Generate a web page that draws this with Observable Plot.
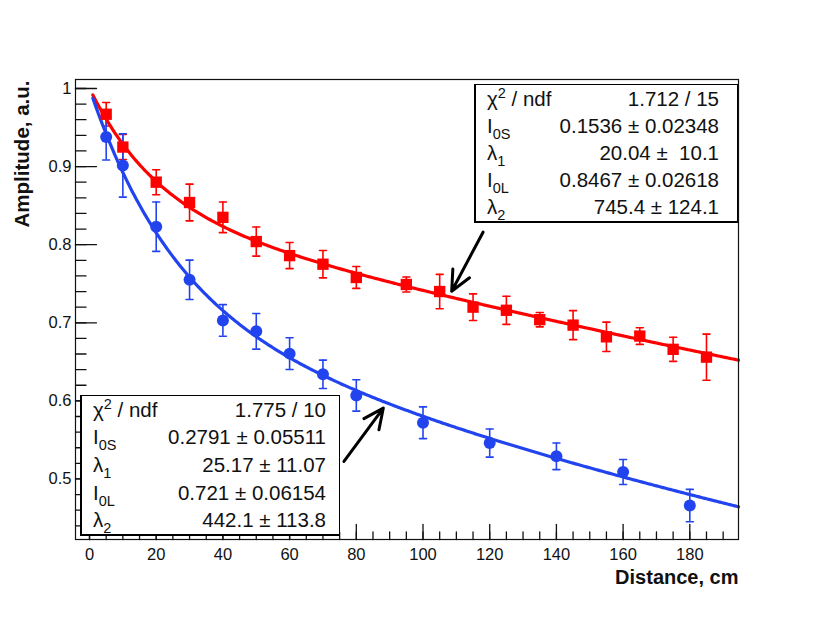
<!DOCTYPE html>
<html>
<head>
<meta charset="utf-8">
<script src="https://cdn.jsdelivr.net/npm/d3@7"></script>
<script src="https://cdn.jsdelivr.net/npm/@observablehq/plot@0.6"></script>
<style>
  html, body { margin: 0; padding: 0; background: #fff; }
  #wrap { position: relative; width: 830px; height: 623px; font-family: "Liberation Sans", Arial, Helvetica, sans-serif; }
  .stat { position: absolute; background: #fff; border: 1.3px solid #000; border-left-width: 2px; border-bottom-width: 2px; box-sizing: border-box; display: flex; flex-direction: column; justify-content: space-around; font-size: 20.5px; color: #111; }
  .row { display: flex; justify-content: space-between; align-items: baseline; white-space: pre; line-height: 26px; }
  .row sub { font-size: 14.5px; vertical-align: -6px; line-height: 0; }
  .row sup { font-size: 14.5px; vertical-align: 8px; line-height: 0; }
</style>
</head>
<body>
<div id="wrap"></div>
<script>
// ---- data ----
const redX   = [5, 10, 20, 30, 40, 50, 60, 70, 80, 95, 105, 115, 125, 135, 145, 155, 165, 175, 185];
const redY   = [0.967, 0.925, 0.880, 0.854, 0.835, 0.804, 0.786, 0.775, 0.758, 0.749, 0.740, 0.720, 0.716, 0.704, 0.697, 0.682, 0.683, 0.666, 0.656];
const redErr = [0.015, 0.016, 0.016, 0.0235, 0.0196, 0.0186, 0.0167, 0.0175, 0.014, 0.0096, 0.022, 0.017, 0.018, 0.0092, 0.0186, 0.0188, 0.0107, 0.0154, 0.0295];

const blueX   = [5, 10, 20, 30, 40, 50, 60, 70, 80, 100, 120, 140, 160, 180];
const blueY   = [0.938, 0.9015, 0.823, 0.755, 0.703, 0.689, 0.6605, 0.634, 0.607, 0.572, 0.546, 0.529, 0.509, 0.466];
const blueErr = [0.0295, 0.0406, 0.0316, 0.0252, 0.0203, 0.0228, 0.0203, 0.0182, 0.0201, 0.0203, 0.018, 0.017, 0.016, 0.0207];

// fit parameters: I0S, lambda1, I0L, lambda2 (from the stat boxes)
const redFit  = [0.1536, 20.04, 0.8467, 745.4];
const blueFit = [0.2791, 25.17, 0.721, 442.1];
const fitRange = [1, 194.6];

const redLabels  = ["χ<sup>2</sup> / ndf", "I<sub>0S</sub>", "λ<sub>1</sub>", "I<sub>0L</sub>", "λ<sub>2</sub>"];
const redValues  = ["1.712 / 15", "0.1536 ± 0.02348", "20.04 ±  10.1", "0.8467 ± 0.02618", "745.4 ± 124.1"];
const blueLabels = ["χ<sup>2</sup> / ndf", "I<sub>0S</sub>", "λ<sub>1</sub>", "I<sub>0L</sub>", "λ<sub>2</sub>"];
const blueValues = ["1.775 / 10", "0.2791 ± 0.05511", "25.17 ± 11.07", "0.721 ± 0.06154", "442.1 ± 113.8"];

const xMajor = [0, 20, 40, 60, 80, 100, 120, 140, 160, 180];
const xMinor = d3.range(0, 195, 5);
const yMajor = [0.5, 0.6, 0.7, 0.8, 0.9, 1.0];
const yMinor = [0.44,0.46,0.48,0.50,0.52,0.54,0.56,0.58,0.60,0.62,0.64,0.66,0.68,0.70,0.72,0.74,0.76,0.78,0.80,0.82,0.84,0.86,0.88,0.90,0.92,0.94,0.96,0.98,1.0];
const yTickLabels = ["0.5", "0.6", "0.7", "0.8", "0.9", "1"];

// arrows (data coordinates)
const arrowX1 = [118.0, 76.3];
const arrowY1 = [0.816, 0.5224];
const arrowX2 = [108.6, 88.1];
const arrowY2 = [0.7404, 0.5908];

const xTitle = "Distance, cm";
const yTitle = "Amplitude, a.u.";

// ---- build tables ----
const RED = "#ff0000", BLUE = "#2244ee";
const redPts  = redX.map((x, i) => ({x, y: redY[i], e: redErr[i]}));
const bluePts = blueX.map((x, i) => ({x, y: blueY[i], e: blueErr[i]}));
const fitF = p => x => p[0] * Math.exp(-x / p[1]) + p[2] * Math.exp(-x / p[3]);
const xs = d3.range(fitRange[0], fitRange[1], 0.5).concat([fitRange[1]]);
const redCurve  = xs.map(x => ({x, y: fitF(redFit)(x)}));
const blueCurve = xs.map(x => ({x, y: fitF(blueFit)(x)}));
const arrows = arrowX1.map((x1, i) => ({x1, y1: arrowY1[i], x2: arrowX2[i], y2: arrowY2[i]}));

const xDomain = [-4.2, 194.6];
const yDomain = [0.4225, 1.0115];

const lineShape = { draw(ctx, l) { ctx.moveTo(0, 0); ctx.lineTo(0, -l); } };

function errMarks(pts, color) {
  return [
    Plot.ruleX(pts, {x: "x", y1: d => d.y - d.e, y2: d => d.y + d.e, stroke: color, strokeWidth: 1.6}),
    Plot.vector(pts, {x: "x", y: d => d.y + d.e, length: 7, rotate: 90, anchor: "middle", shape: lineShape, stroke: color, strokeWidth: 1.6}),
    Plot.vector(pts, {x: "x", y: d => d.y - d.e, length: 7, rotate: 90, anchor: "middle", shape: lineShape, stroke: color, strokeWidth: 1.6})
  ];
}

const chart = Plot.plot({
  width: 830, height: 623,
  marginLeft: 75, marginRight: 92, marginTop: 79, marginBottom: 84,
  x: {domain: xDomain},
  y: {domain: yDomain},
  style: {fontFamily: "'Liberation Sans', Arial, Helvetica, sans-serif", background: "white", color: "#111"},
  marks: [
    // ticks (inward)
    Plot.vector(xMinor, {x: d => d, y: yDomain[0], length: 7.5, rotate: 0, anchor: "start", shape: lineShape, stroke: "#111", strokeWidth: 1.3}),
    Plot.vector(xMajor, {x: d => d, y: yDomain[0], length: 15, rotate: 0, anchor: "start", shape: lineShape, stroke: "#111", strokeWidth: 1.3}),
    Plot.vector(yMinor, {x: xDomain[0], y: d => d, length: 10.5, rotate: 90, anchor: "start", shape: lineShape, stroke: "#111", strokeWidth: 1.3}),
    Plot.vector(yMajor, {x: xDomain[0], y: d => d, length: 21, rotate: 90, anchor: "start", shape: lineShape, stroke: "#111", strokeWidth: 1.3}),
    Plot.axisX(xMajor, {tickSize: 0, tickPadding: 9, fontSize: 16.5, label: null, tickFormat: d => String(d)}),
    Plot.axisY(yMajor, {tickSize: 0, tickPadding: 4, fontSize: 16.5, label: null, tickFormat: (d, i) => yTickLabels[yMajor.indexOf(d)]}),
    ...errMarks(redPts, RED),
    ...errMarks(bluePts, BLUE),
    Plot.line(redCurve, {x: "x", y: "y", stroke: RED, strokeWidth: 3.2}),
    Plot.line(blueCurve, {x: "x", y: "y", stroke: BLUE, strokeWidth: 3.2}),
    Plot.dot(redPts, {x: "x", y: "y", symbol: "square", r: 6.4, fill: RED}),
    Plot.dot(bluePts, {x: "x", y: "y", symbol: "circle", r: 6, fill: BLUE}),
    Plot.arrow(arrows, {x1: "x1", y1: "y1", x2: "x2", y2: "y2", stroke: "#000", strokeWidth: 3, headLength: 13, headAngle: 50}),
    Plot.frame({stroke: "#111", strokeWidth: 1.2}),
    Plot.text([xTitle], {frameAnchor: "bottom-right", text: d => d, textAnchor: "end", lineAnchor: "bottom", dy: 44, fontSize: 20, fontWeight: "bold", fill: "#111"}),
    Plot.text([yTitle], {frameAnchor: "top-left", text: d => d, textAnchor: "end", lineAnchor: "middle", rotate: -90, dx: -53, dy: 1, fontSize: 20.5, fontWeight: "bold", fill: "#111"})
  ]
});

const wrap = document.getElementById("wrap");
wrap.appendChild(chart);

function statBox(labels, values, box) {
  const div = document.createElement("div");
  div.className = "stat";
  Object.assign(div.style, {left: box.left + "px", top: box.top + "px", width: box.width + "px", height: box.height + "px", padding: `0 ${box.padR}px 0 ${box.padL}px`});
  labels.forEach((lab, i) => {
    const row = document.createElement("div");
    row.className = "row";
    row.innerHTML = `<span>${lab}</span><span>${values[i]}</span>`;
    div.appendChild(row);
  });
  wrap.appendChild(div);
}
statBox(redLabels, redValues, {left: 474, top: 84, width: 264, height: 139, padL: 11, padR: 18});
statBox(blueLabels, blueValues, {left: 80, top: 395, width: 260, height: 141, padL: 11, padR: 13});
</script>
</body>
</html>
